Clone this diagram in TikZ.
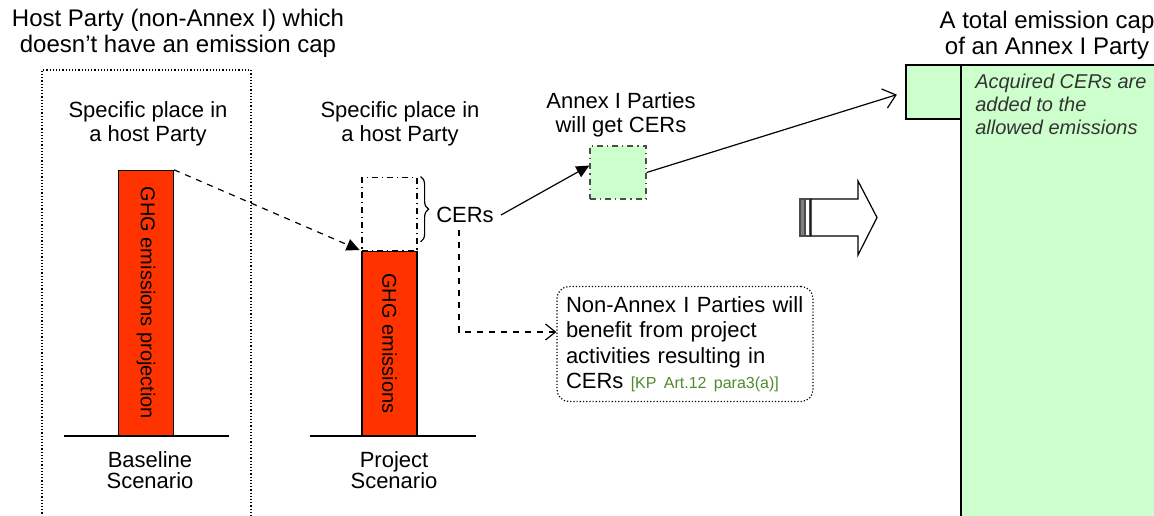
\documentclass[tikz,border=0pt]{standalone}
\usepackage{fontspec}
\setmainfont{Liberation Sans}
\usetikzlibrary{arrows.meta,decorations.pathreplacing}
\definecolor{ghgred}{HTML}{FF3300}
\definecolor{cergreen}{HTML}{CCFFCC}
\definecolor{kpgreen}{HTML}{4E8A2E}
\definecolor{notegray}{HTML}{333333}

\begin{document}
\begin{tikzpicture}[x=0.5pt,y=-0.5pt,line width=0.6pt,
    heading/.style={align=center,font=\fontsize{12}{13}\selectfont},
    place/.style={align=center,font=\fontsize{11}{12}\selectfont},
    scenario/.style={align=center,font=\fontsize{11}{10.5}\selectfont},
    bar/.style={draw,fill=ghgred,minimum width=27.5pt,inner sep=0pt,anchor=south},
    bartext/.style={rotate=-90,font=\fontsize{10}{12}\selectfont},
    ground/.style={line width=1.1pt},
    cerbox/.style={draw=gray!60!black,dash dot,inner sep=0pt}]

    \useasboundingbox (0,0) rectangle (1154,515);

    % baseline scenario
    \node[heading] (hosttitle) at (178,33) {Host Party (non-Annex I) which\\doesn’t have an emission cap};
    \draw[densely dotted] (42,520) -- (42,70) -- (251,70) -- (251,520);
    \node[place] (place1) at (148,124) {Specific place in\\a host Party};
    \node[bar,minimum height=132.5pt] (base) at (146,436) {};
    \node[bartext] at (base.center) {GHG emissions projection};
    \draw[ground] (64,436) -- (229,436);
    \node[scenario] (baselbl) at (150,470) {Baseline\\Scenario};

    % project scenario
    \node[place] (place2) at (400,124) {Specific place in\\a host Party};
    \node[bar,minimum height=92pt] (proj) at (389.5,436) {};
    \node[bartext] at (proj.center) {GHG emissions};
    \node[cerbox,draw=black,minimum width=27.5pt,minimum height=36.5pt,anchor=south] (cers) at (proj.north) {};
    \draw[ground] (310,436) -- (476,436);
    \node[scenario] (projlbl) at (394,470) {Project\\Scenario};
    \draw[dashed,-{Triangle[length=6.5pt,width=6pt]},shorten >=1pt] (base.north east) -- (proj.north west);

    \draw[decorate,decoration={brace,amplitude=4pt}] ([xshift=1.5pt]cers.north east) -- ([xshift=1.5pt,yshift=4.5pt]cers.south east);
    \node[place] (cerlbl) at (465,215) {CERs};

    % annex I parties
    \node[place] (annexlbl) at (621,115) {Annex I Parties\\will get CERs};
    \node[cerbox,fill=cergreen,minimum width=28pt,minimum height=26.5pt] (acq) at (618,172.5) {};
    \draw[-{Triangle[length=6.5pt,width=6pt]}] (cerlbl.east) -- ([yshift=3.5pt]acq.west);

    % non-annex I parties
    \node[draw,densely dotted,rounded corners=6pt,align=left,text width=119pt,inner xsep=4.5pt,minimum height=57.5pt,font=\fontsize{11}{12.7}\selectfont] (benefit) at (685,344) {Non-Annex I Parties will\\benefit from project\\activities resulting in\\CERs \mbox{\fontsize{8}{9}\selectfont\color{kpgreen}[KP Art.12 para3(a)]}};
    \draw[dashed,-{Straight Barb[length=5pt,width=8pt]}] ([xshift=-3pt]cerlbl.south) |- ([yshift=6pt]benefit.west);

    % block arrow
    \filldraw[fill=gray,draw=gray!60!black] (800,199) rectangle (804.5,236);
    \draw[gray!60!black] (805.5,199) rectangle (810,236);
    \draw[fill=white] (811,199) -- (858,199) -- (858,181) -- (877,217.5) -- (858,255) -- (858,236) -- (811,236) -- cycle;

    % total emission cap
    \node[heading] (captitle) at (1047,35) {A total emission cap\\of an Annex I Party};
    \draw[fill=cergreen] (961,65) rectangle (1170,530);
    \node[draw,fill=cergreen,minimum width=27.5pt,minimum height=27pt,inner sep=0pt] (capsmall) at (933.5,92) {};
    \node[anchor=west,align=left,text=notegray,font=\fontsize{10}{11.5}\selectfont\itshape] (acqnote) at (968,104) {Acquired CERs are\\added to the\\allowed emissions};
    \draw[-{Straight Barb[length=6pt,width=10pt]},shorten >=4.5pt] (acq.east) -- (capsmall.west);

\end{tikzpicture}
\end{document}
